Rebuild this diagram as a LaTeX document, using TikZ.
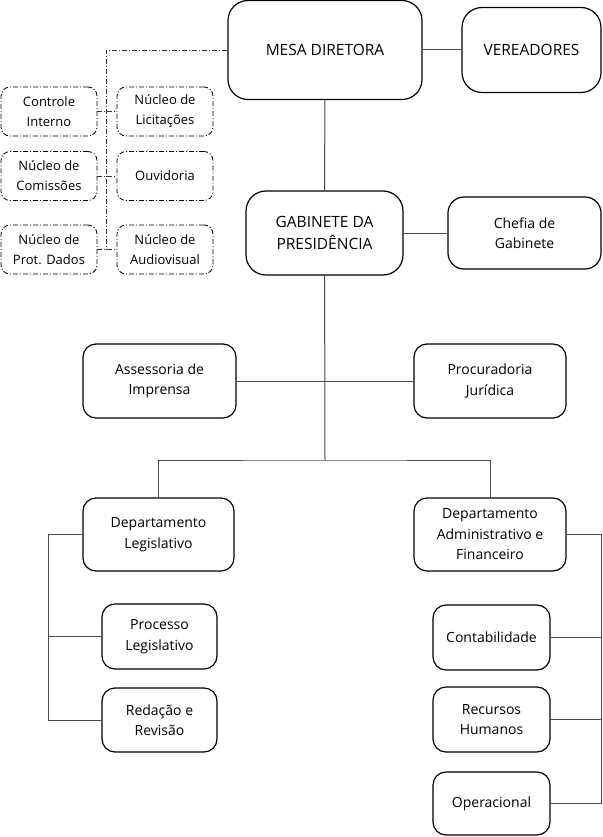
\documentclass[tikz,border=0pt]{standalone}
\usepackage{fontspec}
\setmainfont{Open Sans}
\begin{document}
\tikzset{
  unit/.style={draw, line width=1.2pt, rounded corners=13pt, align=center,
    inner sep=0pt, font=\fontsize{14}{20.5}\selectfont},
  head/.style={unit, rounded corners=20pt, font=\fontsize{15.5}{22}\selectfont},
  aux/.style={draw, line width=0.8pt, rounded corners=9pt, align=center,
    inner sep=0pt, dash pattern=on 5pt off 2pt on 1pt off 2pt,
    minimum width=96pt, minimum height=49pt, font=\fontsize{13}{20}\selectfont},
  link/.style={line width=1pt, draw=black!70},
  auxlink/.style={line width=0.8pt, draw=black!80, dash pattern=on 5pt off 2pt on 1pt off 2pt}
}
\begin{tikzpicture}[x=1pt, y=-1pt]
    \useasboundingbox (0,0) rectangle (602,837);
    % direcao
    \node[head, minimum width=194pt, minimum height=99pt] (mesa) at (325,50) {MESA DIRETORA};
    \node[head, minimum width=139pt, minimum height=85pt] (vere) at (531.5,50) {VEREADORES};
    \node[head, minimum width=157pt, minimum height=84pt] (gab) at (324.5,233) {GABINETE DA\\PRESID\^ENCIA};
    \node[unit, rounded corners=16pt, minimum width=153pt, minimum height=72pt] (chefia) at (524.5,233) {Chefia de\\Gabinete};
    % orgaos de apoio
    \node[aux] (ctrl) at (49,111.5) {Controle\\Interno};
    \node[aux] (lic) at (165,111.5) {N\'ucleo de\\Licita\c{c}\~oes};
    \node[aux] (comis) at (49,176) {N\'ucleo de\\Comiss\~oes};
    \node[aux] (ouv) at (165,176) {Ouvidoria};
    \node[aux] (prot) at (49,249.5) {N\'ucleo de\\Prot. Dados};
    \node[aux] (audio) at (165,249.5) {N\'ucleo de\\Audiovisual};
    % assessorias
    \node[unit, minimum width=153pt, minimum height=74pt] (imprensa) at (159.5,381) {Assessoria de\\Imprensa};
    \node[unit, minimum width=152pt, minimum height=74pt] (jur) at (490,381) {Procuradoria\\Jur\'idica};
    % departamentos
    \node[unit, minimum width=151pt, minimum height=73pt] (deplg) at (158.5,534.5) {Departamento\\Legislativo};
    \node[unit, minimum width=152pt, minimum height=73pt] (depadm) at (490,534.5) {Departamento\\Administrativo e\\Financeiro};
    \node[unit, minimum width=115pt, minimum height=65pt] (proc) at (159.5,636.5) {Processo\\Legislativo};
    \node[unit, minimum width=115pt, minimum height=64pt] (red) at (159.5,720) {Reda\c{c}\~ao e\\Revis\~ao};
    \node[unit, minimum width=117pt, minimum height=65pt] (cont) at (491.5,637.5) {Contabilidade};
    \node[unit, minimum width=117pt, minimum height=65pt] (rh) at (491.5,719.5) {Recursos\\Humanos};
    \node[unit, minimum width=117pt, minimum height=63pt] (oper) at (491.5,803.5) {Operacional};
    \coordinate (split) at (325,460);
    \coordinate (vtop) at (106,50);
    \coordinate (lbus) at (48,534.5);
    \coordinate (rbus) at (601,534.5);
    % ligacoes
    \draw[link] (mesa) -- (vere);
    \draw[link] (mesa) -- (gab);
    \draw[link] (gab) -- (chefia);
    \draw[link] (gab) -- (split);
    \draw[link] (imprensa) -- (jur);
    \draw[link] (deplg.north) |- (split) -| (depadm.north);
    \draw[link] (deplg.west) -- (lbus) |- (red.west);
    \draw[link] (proc.west) -- (lbus |- proc.west);
    \draw[link] (depadm.east) -- (rbus) |- (oper.east);
    \draw[link] (cont.east) -- (rbus |- cont.east);
    \draw[link] (rh.east) -- (rbus |- rh.east);
    \draw[auxlink] (mesa.west) -- (vtop) -- (vtop |- prot.east);
    \draw[auxlink] (ctrl) -- (lic);
    \draw[auxlink] (comis) -- (ouv);
    \draw[auxlink] (prot) -- (audio);
  \end{tikzpicture}
\end{document}
